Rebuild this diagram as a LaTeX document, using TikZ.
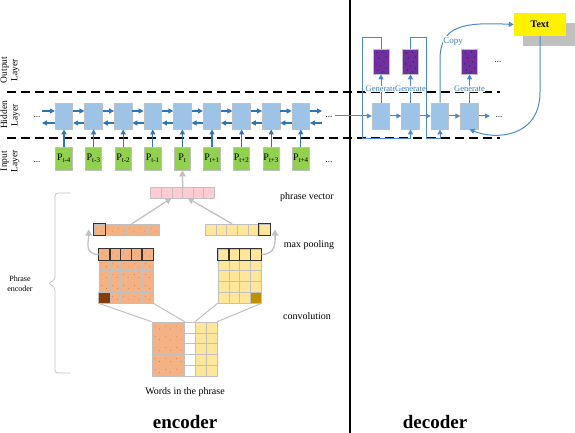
\documentclass[tikz,border=0pt]{standalone}
\usepackage{fontspec}
\setmainfont{Liberation Serif}
\usetikzlibrary{arrows.meta}
\definecolor{hblue}{HTML}{9DC3E6}
\definecolor{igreen}{HTML}{92D050}
\definecolor{purp}{HTML}{7030A0}
\definecolor{ablue}{HTML}{2E75B6}
\definecolor{dblue}{HTML}{4A8ACB}
\definecolor{gblue}{HTML}{3A7DC0}
\definecolor{oran}{HTML}{F4B183}
\definecolor{doran}{HTML}{843C0C}
\definecolor{yell}{HTML}{FFE699}
\definecolor{dyell}{HTML}{BF9000}
\definecolor{pinkc}{HTML}{FFCCD3}
\definecolor{dotc}{HTML}{C55A11}
\definecolor{lgray}{HTML}{C0C0C0}
\begin{document}
\begin{tikzpicture}[x=1pt,y=-1pt,
  hid/.style={fill=hblue,draw=lgray,line width=0.8pt,minimum width=17.5pt,minimum height=26pt,inner sep=0pt},
  inp/.style={fill=igreen,draw=lgray,line width=0.8pt,minimum width=16.5pt,minimum height=23pt,inner sep=0pt,font=\fontsize{10}{10}\selectfont},
  pur/.style={fill=purp,draw=lgray,line width=0.6pt,minimum width=16pt,minimum height=25pt,inner sep=0pt,
    path picture={\foreach \p in {(4pt,-4pt),(10pt,-3pt),(13pt,-8pt),(6pt,-9pt),(11pt,-13pt),(3pt,-15pt),(8pt,-17pt),(13pt,-19pt),(5pt,-21pt),(10pt,-23pt)} \fill[black!85] ([shift={\p}]path picture bounding box.north west) circle (0.55pt);}},
  ocell/.style={fill=oran,draw=lgray,line width=0.6pt,minimum width=10.8pt,minimum height=10.8pt,inner sep=0pt,
    path picture={\fill[dotc] ([shift={(3pt,-4pt)}]path picture bounding box.north west) circle (0.35pt);
                  \fill[dotc] ([shift={(7.5pt,-7pt)}]path picture bounding box.north west) circle (0.35pt);}},
  ycell/.style={fill=yell,draw=lgray,line width=0.6pt,minimum width=10.8pt,minimum height=10.8pt,inner sep=0pt},
  pcell/.style={fill=pinkc,draw=lgray,line width=0.6pt,minimum width=10.6pt,minimum height=10.6pt,inner sep=0pt},
  wcell/.style={fill=white,draw=lgray,line width=0.6pt,minimum width=10.8pt,minimum height=10.8pt,inner sep=0pt},
  darkb/.style={draw=black!80,line width=0.9pt},
  earr/.style={draw=ablue,line width=1.1pt,-{Triangle[length=5pt,width=5pt]}},
  darr/.style={draw=dblue,line width=1pt,-{Triangle[length=5pt,width=5pt]}},
  garr/.style={draw=lgray,line width=1.3pt,-{Triangle[length=6pt,width=6.5pt]}},
  gline/.style={draw=lgray,line width=1pt},
  layerdash/.style={draw=black,line width=1.4pt,dash pattern=on 9pt off 5pt},
  lab/.style={font=\fontsize{10}{12}\selectfont},
  layerlab/.style={rotate=90,align=center,font=\fontsize{9.5}{10.5}\selectfont},
  genlab/.style={fill=white,inner sep=0.6pt,text=gblue,font=\fontsize{8.5}{8.5}\selectfont},
  ellip/.style={font=\fontsize{9}{9}\selectfont},
]
\useasboundingbox (0,0) rectangle (575,433);

% layer separators and divider
\draw[layerdash] (7,92) -- (500,92);
\draw[layerdash] (7,138) -- (500,138);
\draw[black,line width=1.2pt] (350,0) -- (350,433);

% layer labels
\node[layerlab] (lout) at (10,70) {Output\\Layer};
\node[layerlab] (lhid) at (10,115) {Hidden\\Layer};
\node[layerlab] (linp) at (10,161) {Input\\Layer};

% encoder hidden / input
\foreach \i/\s in {0/t-4,1/t-3,2/t-2,3/t-1,4/t,5/t+1,6/t+2,7/t+3,8/t+4}{
  \node[hid] (h\i) at ({64+29.6*\i},116) {};
  \node[inp] (in\i) at ({64+29.6*\i},158.5) {P\textsubscript{\s}};
  \draw[earr] (in\i.north) -- (h\i.south);
}
\foreach \i in {0,...,7}{
  \pgfmathtruncatemacro\j{\i+1}
  \draw[earr] ([yshift=5pt]h\i.east) -- ([yshift=5pt]h\j.west);
  \draw[earr] ([yshift=-7pt]h\j.west) -- ([yshift=-7pt]h\i.east);
}
\coordinate (eLa) at (42,111); \coordinate (eLb) at (42,123);
\coordinate (eRa) at (322,111); \coordinate (eRb) at (322,123);
\draw[earr] (eLa) -- ([yshift=5pt]h0.west);
\draw[earr] ([yshift=-7pt]h0.west) -- (eLb);
\draw[earr] ([yshift=5pt]h8.east) -- (eRa);
\draw[earr] (eRb) -- ([yshift=-7pt]h8.east);
\node[ellip] (dl1) at (37,117) {...};
\node[ellip] (dl2) at (37,162) {...};
\node[ellip] (dr1) at (329,117) {...};
\node[ellip] (dr2) at (329,162) {...};

% decoder
\foreach \k in {1,...,4} \node[hid] (d\k) at ({381+29.5*(\k-1)},116) {};
\coordinate (din) at (335,116);
\coordinate (dout) at (490,116);
\draw[darr] (din) -- (d1.west);
\draw[darr] (d1.east) -- (d2.west);
\draw[darr] (d2.east) -- (d3.west);
\draw[darr] (d3.east) -- (d4.west);
\draw[darr] (d4.east) -- (dout);
\node[ellip] (dr3) at (499,117) {...};
\node[pur] (o1) at (381,61.5) {};
\node[pur] (o2) at (410.5,61.5) {};
\node[pur] (o4) at (469.5,61.5) {};
\node[ellip] (dr4) at (498,62) {...};
\draw[darr] (d1.north) -- (o1.south);
\draw[darr] (d2.north) -- (o2.south);
\draw[darr] (d4.north) -- (o4.south);
\draw[darr] (o1.north) -- (381,38) -- (362,38) -- (362,138) -- (410.5,138) -- (d2.south);
\draw[darr] (o2.north) -- (410.5,38) -- (426,38) -- (426,138) -- (440,138) -- (d3.south);
\node[genlab] (g1) at (381,89) {Generate};
\node[genlab] (g2) at (410.5,89) {Generate};
\node[genlab] (g4) at (469.5,89) {Generate};

% text box
\fill[lgray] (523,23) rectangle (575,46);
\node[fill=yellow,minimum width=52pt,minimum height=23pt,inner sep=0pt,font=\bfseries\fontsize{10}{11}\selectfont] (txt) at (540,24.5) {Text};
\draw[darr] (d3.north) -- (440,60) .. controls (440,26) and (462,22) .. (txt.west);
\node[genlab,font=\fontsize{9}{9}\selectfont] (copy) at (453,41) {Copy};
\draw[darr] (txt.south) -- (540,92) .. controls (540,138) and (495,140) .. (d4.south);

% phrase encoder
\foreach \c in {1,...,6}{
  \node[pcell] (pv\c) at ({150.6+10.6*(\c-0.5)},192.5) {};
  \node[ocell] (lp\c) at ({94+10.8*(\c-0.5)},229.5) {};
  \node[ycell] (rp\c) at ({205+10.8*(\c-0.5)},229.5) {};
}
\draw[darkb] (lp1.north west) rectangle (lp1.south east);
\draw[darkb] (rp6.north west) rectangle (rp6.south east);
\draw[garr] (pv3.north east) -- (in4.south);
\draw[garr] (lp4.north) -- (pv3.south west);
\draw[garr] (rp3.north) -- (pv4.south);

\foreach \r in {1,...,5}{
  \foreach \c in {1,...,5}{\node[ocell] (lc\r\c) at ({99+10.8*(\c-0.5)},{249+10.8*(\r-0.5)}) {};}
  \foreach \c in {1,...,4}{\node[ycell] (rc\r\c) at ({218+10.8*(\c-0.5)},{249+10.8*(\r-0.5)}) {};}
}
\filldraw[fill=doran,draw=lgray,line width=0.6pt] (lc51.north west) rectangle (lc51.south east);
\filldraw[fill=dyell,draw=lgray,line width=0.6pt] (rc54.north west) rectangle (rc54.south east);
\foreach \c in {1,...,5} \draw[darkb] (lc1\c.north west) rectangle (lc1\c.south east);
\foreach \c in {1,...,4} \draw[darkb] (rc1\c.north west) rectangle (rc1\c.south east);

\draw[garr] (lc11.west) .. controls +(-15,0) and +(0,12) .. ([xshift=-5pt]lp1.west);
\draw[garr] (rc14.east) .. controls +(15,0) and +(0,12) .. ([xshift=5pt]rp6.east);

\foreach \r in {1,...,5}{
  \foreach \c in {1,2,3}{\node[ocell] (w\r\c) at ({152+10.8*(\c-0.5)},{322+10.8*(\r-0.5)}) {};}
  \node[wcell] (w\r4) at ({152+10.8*3.5},{322+10.8*(\r-0.5)}) {};
  \foreach \c in {5,6}{\node[ycell] (w\r\c) at ({152+10.8*(\c-0.5)},{322+10.8*(\r-0.5)}) {};}
}
\draw[gline] (lc51.south west) -- (w11.north west);
\draw[gline] (lc55.south east) -- (w13.north east);
\draw[gline] (rc51.south west) -- (w15.north west);
\draw[gline] (rc54.south east) -- (w16.north east);

% brace
\draw[lgray,line width=0.7pt,rounded corners=3pt] (70,193) -- (55,193) -- (55,280) -- (48,283.5) -- (55,287) -- (55,373) -- (70,373);

% labels
\node[font=\fontsize{8}{9.5}\selectfont,align=center] (pe) at (20,284) {Phrase\\encoder};
\node[lab] (lpv) at (307,197) {phrase vector};
\node[lab] (lmp) at (309,245) {max pooling};
\node[lab] (lcv) at (307,316) {convolution};
\node[lab] (lw) at (185,392) {Words in the phrase};
\node[font=\bfseries\fontsize{19}{22}\selectfont] (enc) at (185,421.5) {encoder};
\node[font=\bfseries\fontsize{19}{22}\selectfont] (dec) at (435,421.5) {decoder};
\end{tikzpicture}
\end{document}
